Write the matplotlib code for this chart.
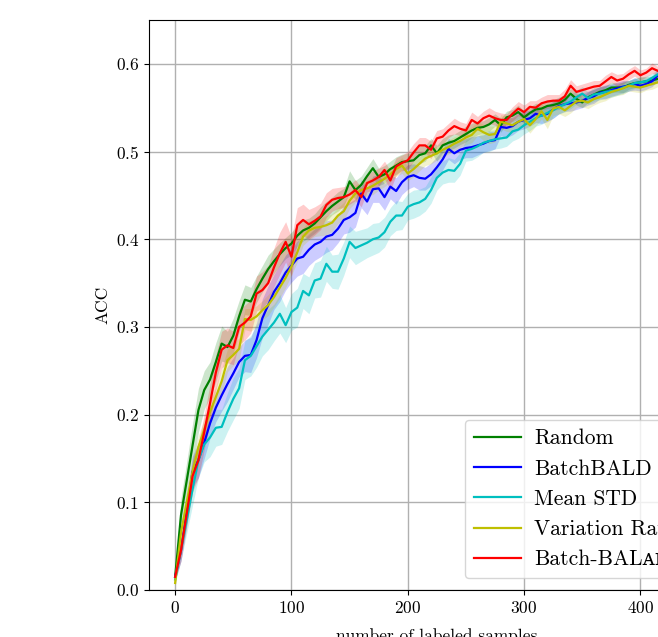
import matplotlib

matplotlib.use("Agg")

import matplotlib.pyplot as plt
import numpy as np

# number of labeled samples (one point every 5 samples)
samples = np.arange(0, 421, 5)

acc_random = [
    0.015, 0.085, 0.125, 0.165, 0.205, 0.228, 0.240, 0.260, 0.281, 0.277, 0.290, 0.312,
    0.331, 0.329, 0.343, 0.355, 0.366, 0.375, 0.383, 0.390, 0.395, 0.404, 0.410, 0.413,
    0.418, 0.425, 0.432, 0.438, 0.443, 0.448, 0.466, 0.456, 0.462, 0.472, 0.481, 0.471,
    0.474, 0.480, 0.484, 0.488, 0.489, 0.490, 0.496, 0.498, 0.507, 0.498, 0.507, 0.510,
    0.512, 0.516, 0.520, 0.524, 0.527, 0.528, 0.531, 0.536, 0.530, 0.539, 0.541, 0.545,
    0.539, 0.544, 0.548, 0.549, 0.552, 0.553, 0.555, 0.559, 0.566, 0.560, 0.556, 0.562,
    0.565, 0.568, 0.570, 0.573, 0.573, 0.573, 0.576, 0.578, 0.579, 0.580, 0.581, 0.583, 0.584,
]
std_random = [
    0.004, 0.020, 0.022, 0.025, 0.025, 0.022, 0.020, 0.022, 0.020, 0.018, 0.020, 0.018,
    0.017, 0.016, 0.015, 0.015, 0.016, 0.014, 0.013, 0.012, 0.013, 0.012, 0.012, 0.011,
    0.011, 0.012, 0.011, 0.010, 0.011, 0.010, 0.012, 0.011, 0.010, 0.010, 0.011, 0.010,
    0.010, 0.009, 0.010, 0.009, 0.009, 0.009, 0.010, 0.009, 0.008, 0.009, 0.008, 0.009,
    0.008, 0.008, 0.009, 0.008, 0.008, 0.007, 0.008, 0.007, 0.008, 0.007, 0.007, 0.008,
    0.007, 0.007, 0.007, 0.006, 0.007, 0.006, 0.007, 0.006, 0.006, 0.007, 0.006, 0.006,
    0.006, 0.006, 0.005, 0.006, 0.005, 0.006, 0.005, 0.005, 0.006, 0.005, 0.005, 0.005, 0.005,
]

acc_batchbald = [
    0.015, 0.045, 0.090, 0.135, 0.148, 0.168, 0.190, 0.208, 0.222, 0.235, 0.247, 0.260,
    0.267, 0.268, 0.285, 0.310, 0.325, 0.340, 0.350, 0.362, 0.370, 0.378, 0.380, 0.388,
    0.394, 0.397, 0.403, 0.405, 0.412, 0.422, 0.425, 0.430, 0.452, 0.443, 0.457, 0.458,
    0.448, 0.460, 0.455, 0.465, 0.471, 0.473, 0.470, 0.469, 0.474, 0.482, 0.491, 0.503,
    0.498, 0.502, 0.504, 0.505, 0.507, 0.509, 0.512, 0.513, 0.528, 0.527, 0.529, 0.534,
    0.536, 0.538, 0.543, 0.541, 0.543, 0.548, 0.552, 0.554, 0.555, 0.556, 0.558, 0.561,
    0.563, 0.567, 0.568, 0.570, 0.572, 0.574, 0.575, 0.577, 0.575, 0.577, 0.580, 0.587, 0.590,
]
std_batchbald = [
    0.004, 0.012, 0.015, 0.018, 0.020, 0.018, 0.017, 0.016, 0.018, 0.020, 0.018, 0.017,
    0.018, 0.020, 0.020, 0.022, 0.022, 0.020, 0.021, 0.020, 0.019, 0.020, 0.019, 0.018,
    0.018, 0.017, 0.018, 0.017, 0.016, 0.016, 0.017, 0.016, 0.016, 0.015, 0.015, 0.016,
    0.015, 0.014, 0.015, 0.014, 0.014, 0.013, 0.014, 0.013, 0.013, 0.012, 0.012, 0.012,
    0.012, 0.011, 0.011, 0.012, 0.011, 0.010, 0.011, 0.010, 0.010, 0.011, 0.010, 0.010,
    0.010, 0.009, 0.010, 0.009, 0.009, 0.010, 0.009, 0.008, 0.009, 0.008, 0.008, 0.008,
    0.008, 0.007, 0.008, 0.007, 0.007, 0.007, 0.006, 0.007, 0.006, 0.006, 0.006, 0.006, 0.006,
]

acc_mean_std = [
    0.012, 0.045, 0.080, 0.115, 0.148, 0.166, 0.174, 0.185, 0.186, 0.203, 0.218, 0.230,
    0.262, 0.267, 0.278, 0.289, 0.297, 0.305, 0.315, 0.302, 0.317, 0.322, 0.341, 0.336,
    0.353, 0.355, 0.372, 0.363, 0.363, 0.378, 0.397, 0.390, 0.393, 0.396, 0.400, 0.402,
    0.408, 0.420, 0.427, 0.427, 0.437, 0.440, 0.442, 0.446, 0.456, 0.470, 0.476, 0.479,
    0.478, 0.486, 0.501, 0.503, 0.506, 0.510, 0.512, 0.514, 0.515, 0.516, 0.523, 0.525,
    0.530, 0.534, 0.538, 0.541, 0.544, 0.547, 0.551, 0.554, 0.557, 0.562, 0.566, 0.561,
    0.565, 0.566, 0.568, 0.569, 0.570, 0.573, 0.575, 0.578, 0.579, 0.580, 0.584, 0.588, 0.590,
]
std_mean_std = [
    0.004, 0.012, 0.015, 0.018, 0.020, 0.020, 0.022, 0.021, 0.020, 0.022, 0.024, 0.023,
    0.022, 0.023, 0.024, 0.022, 0.023, 0.021, 0.022, 0.020, 0.021, 0.022, 0.020, 0.021,
    0.020, 0.021, 0.020, 0.019, 0.020, 0.019, 0.018, 0.019, 0.018, 0.017, 0.018, 0.017,
    0.017, 0.016, 0.017, 0.016, 0.015, 0.016, 0.015, 0.014, 0.015, 0.014, 0.013, 0.014,
    0.013, 0.013, 0.012, 0.013, 0.012, 0.011, 0.012, 0.011, 0.011, 0.010, 0.011, 0.010,
    0.010, 0.010, 0.009, 0.010, 0.009, 0.009, 0.008, 0.009, 0.008, 0.008, 0.008, 0.007,
    0.008, 0.007, 0.007, 0.007, 0.006, 0.007, 0.006, 0.006, 0.006, 0.006, 0.005, 0.006, 0.006,
]

acc_var_ratio = [
    0.008, 0.065, 0.100, 0.135, 0.163, 0.183, 0.203, 0.220, 0.238, 0.262, 0.268, 0.275,
    0.309, 0.308, 0.312, 0.319, 0.325, 0.334, 0.345, 0.356, 0.369, 0.385, 0.403, 0.410,
    0.413, 0.414, 0.416, 0.419, 0.427, 0.432, 0.444, 0.452, 0.456, 0.458, 0.461, 0.465,
    0.469, 0.474, 0.480, 0.484, 0.475, 0.480, 0.486, 0.492, 0.495, 0.498, 0.502, 0.505,
    0.509, 0.512, 0.516, 0.519, 0.526, 0.522, 0.519, 0.520, 0.534, 0.532, 0.530, 0.534,
    0.537, 0.530, 0.537, 0.546, 0.536, 0.549, 0.551, 0.547, 0.552, 0.557, 0.558, 0.556,
    0.560, 0.562, 0.565, 0.568, 0.570, 0.572, 0.575, 0.574, 0.573, 0.575, 0.577, 0.579, 0.580,
]
std_var_ratio = [
    0.004, 0.010, 0.012, 0.014, 0.013, 0.012, 0.013, 0.012, 0.014, 0.013, 0.012, 0.013,
    0.012, 0.013, 0.012, 0.011, 0.012, 0.011, 0.012, 0.011, 0.010, 0.011, 0.010, 0.011,
    0.010, 0.010, 0.011, 0.010, 0.009, 0.010, 0.009, 0.010, 0.009, 0.009, 0.010, 0.009,
    0.009, 0.009, 0.008, 0.009, 0.008, 0.009, 0.008, 0.008, 0.009, 0.008, 0.008, 0.008,
    0.008, 0.007, 0.008, 0.009, 0.008, 0.009, 0.010, 0.009, 0.008, 0.009, 0.008, 0.008,
    0.008, 0.009, 0.008, 0.009, 0.010, 0.008, 0.008, 0.007, 0.008, 0.007, 0.007, 0.007,
    0.007, 0.006, 0.007, 0.006, 0.006, 0.007, 0.006, 0.006, 0.006, 0.005, 0.006, 0.005, 0.005,
]

acc_balance = [
    0.015, 0.045, 0.087, 0.130, 0.148, 0.180, 0.213, 0.248, 0.274, 0.279, 0.276, 0.300,
    0.305, 0.312, 0.338, 0.342, 0.350, 0.368, 0.384, 0.397, 0.380, 0.416, 0.422, 0.417,
    0.421, 0.426, 0.439, 0.445, 0.447, 0.448, 0.451, 0.456, 0.448, 0.464, 0.467, 0.471,
    0.479, 0.467, 0.483, 0.487, 0.490, 0.499, 0.507, 0.507, 0.502, 0.515, 0.517, 0.524,
    0.529, 0.526, 0.524, 0.536, 0.532, 0.538, 0.541, 0.538, 0.536, 0.536, 0.543, 0.549,
    0.545, 0.551, 0.550, 0.555, 0.557, 0.558, 0.558, 0.563, 0.575, 0.568, 0.570, 0.572,
    0.574, 0.575, 0.580, 0.585, 0.581, 0.583, 0.588, 0.592, 0.587, 0.590, 0.595, 0.592, 0.590,
]
std_balance = [
    0.004, 0.012, 0.015, 0.018, 0.020, 0.020, 0.022, 0.020, 0.021, 0.020, 0.019, 0.020,
    0.020, 0.019, 0.020, 0.021, 0.020, 0.022, 0.024, 0.023, 0.022, 0.020, 0.018, 0.017,
    0.016, 0.015, 0.014, 0.013, 0.012, 0.012, 0.011, 0.012, 0.011, 0.010, 0.011, 0.010,
    0.010, 0.011, 0.010, 0.009, 0.010, 0.010, 0.009, 0.009, 0.010, 0.009, 0.009, 0.008,
    0.009, 0.008, 0.008, 0.009, 0.008, 0.008, 0.009, 0.008, 0.008, 0.007, 0.008, 0.008,
    0.008, 0.007, 0.008, 0.007, 0.008, 0.007, 0.007, 0.008, 0.007, 0.007, 0.007, 0.007,
    0.007, 0.006, 0.007, 0.006, 0.007, 0.006, 0.006, 0.006, 0.006, 0.005, 0.006, 0.005, 0.005,
]

labels = ["Random", "BatchBALD", "Mean STD", "Variation Ratio", "Batch-BAL\u1d00\u0274\u1d04\u1d07"]
colors = ["g", "b", "c", "y", "r"]
means = [acc_random, acc_batchbald, acc_mean_std, acc_var_ratio, acc_balance]
stds = [std_random, std_batchbald, std_mean_std, std_var_ratio, std_balance]

plt.rcParams["font.family"] = ["cmr10", "DejaVu Serif"]
plt.rcParams["axes.formatter.use_mathtext"] = True
plt.rcParams["mathtext.fontset"] = "cm"

fig = plt.figure(figsize=(6.58, 6.37), dpi=100)
# the original figure is cropped on the right, so the axes run past the edge
ax = fig.add_axes([0.2264, 0.0738, 0.875, 0.8948])

for label, color, mean, std in zip(labels, colors, means, stds):
    mean = np.array(mean)
    std = np.array(std)
    ax.plot(samples, mean, color=color, linewidth=1.6, label=label)
    ax.fill_between(samples, mean - std, mean + std, color=color, alpha=0.2, linewidth=0)

ax.set_xlim(-22.5, 472.5)
ax.set_ylim(0.0, 0.65)
ax.set_xticks([0, 100, 200, 300, 400])
ax.set_yticks([0.0, 0.1, 0.2, 0.3, 0.4, 0.5, 0.6])
ax.tick_params(labelsize=12.5)
ax.grid(True, color="#b0b0b0", linewidth=1.0)
ax.set_axisbelow(True)
ax.set_xlabel("number of labeled samples", fontsize=12.5, labelpad=9)
ax.set_ylabel("ACC", fontsize=12.5)
ax.legend(loc="lower left", bbox_to_anchor=(0.549, 0.021), borderaxespad=0,
          handlelength=2.2, handletextpad=0.6,
          prop={"family": ["cmr10", "DejaVu Serif"], "size": 15.5})

fig.savefig("out.png", dpi=100)
